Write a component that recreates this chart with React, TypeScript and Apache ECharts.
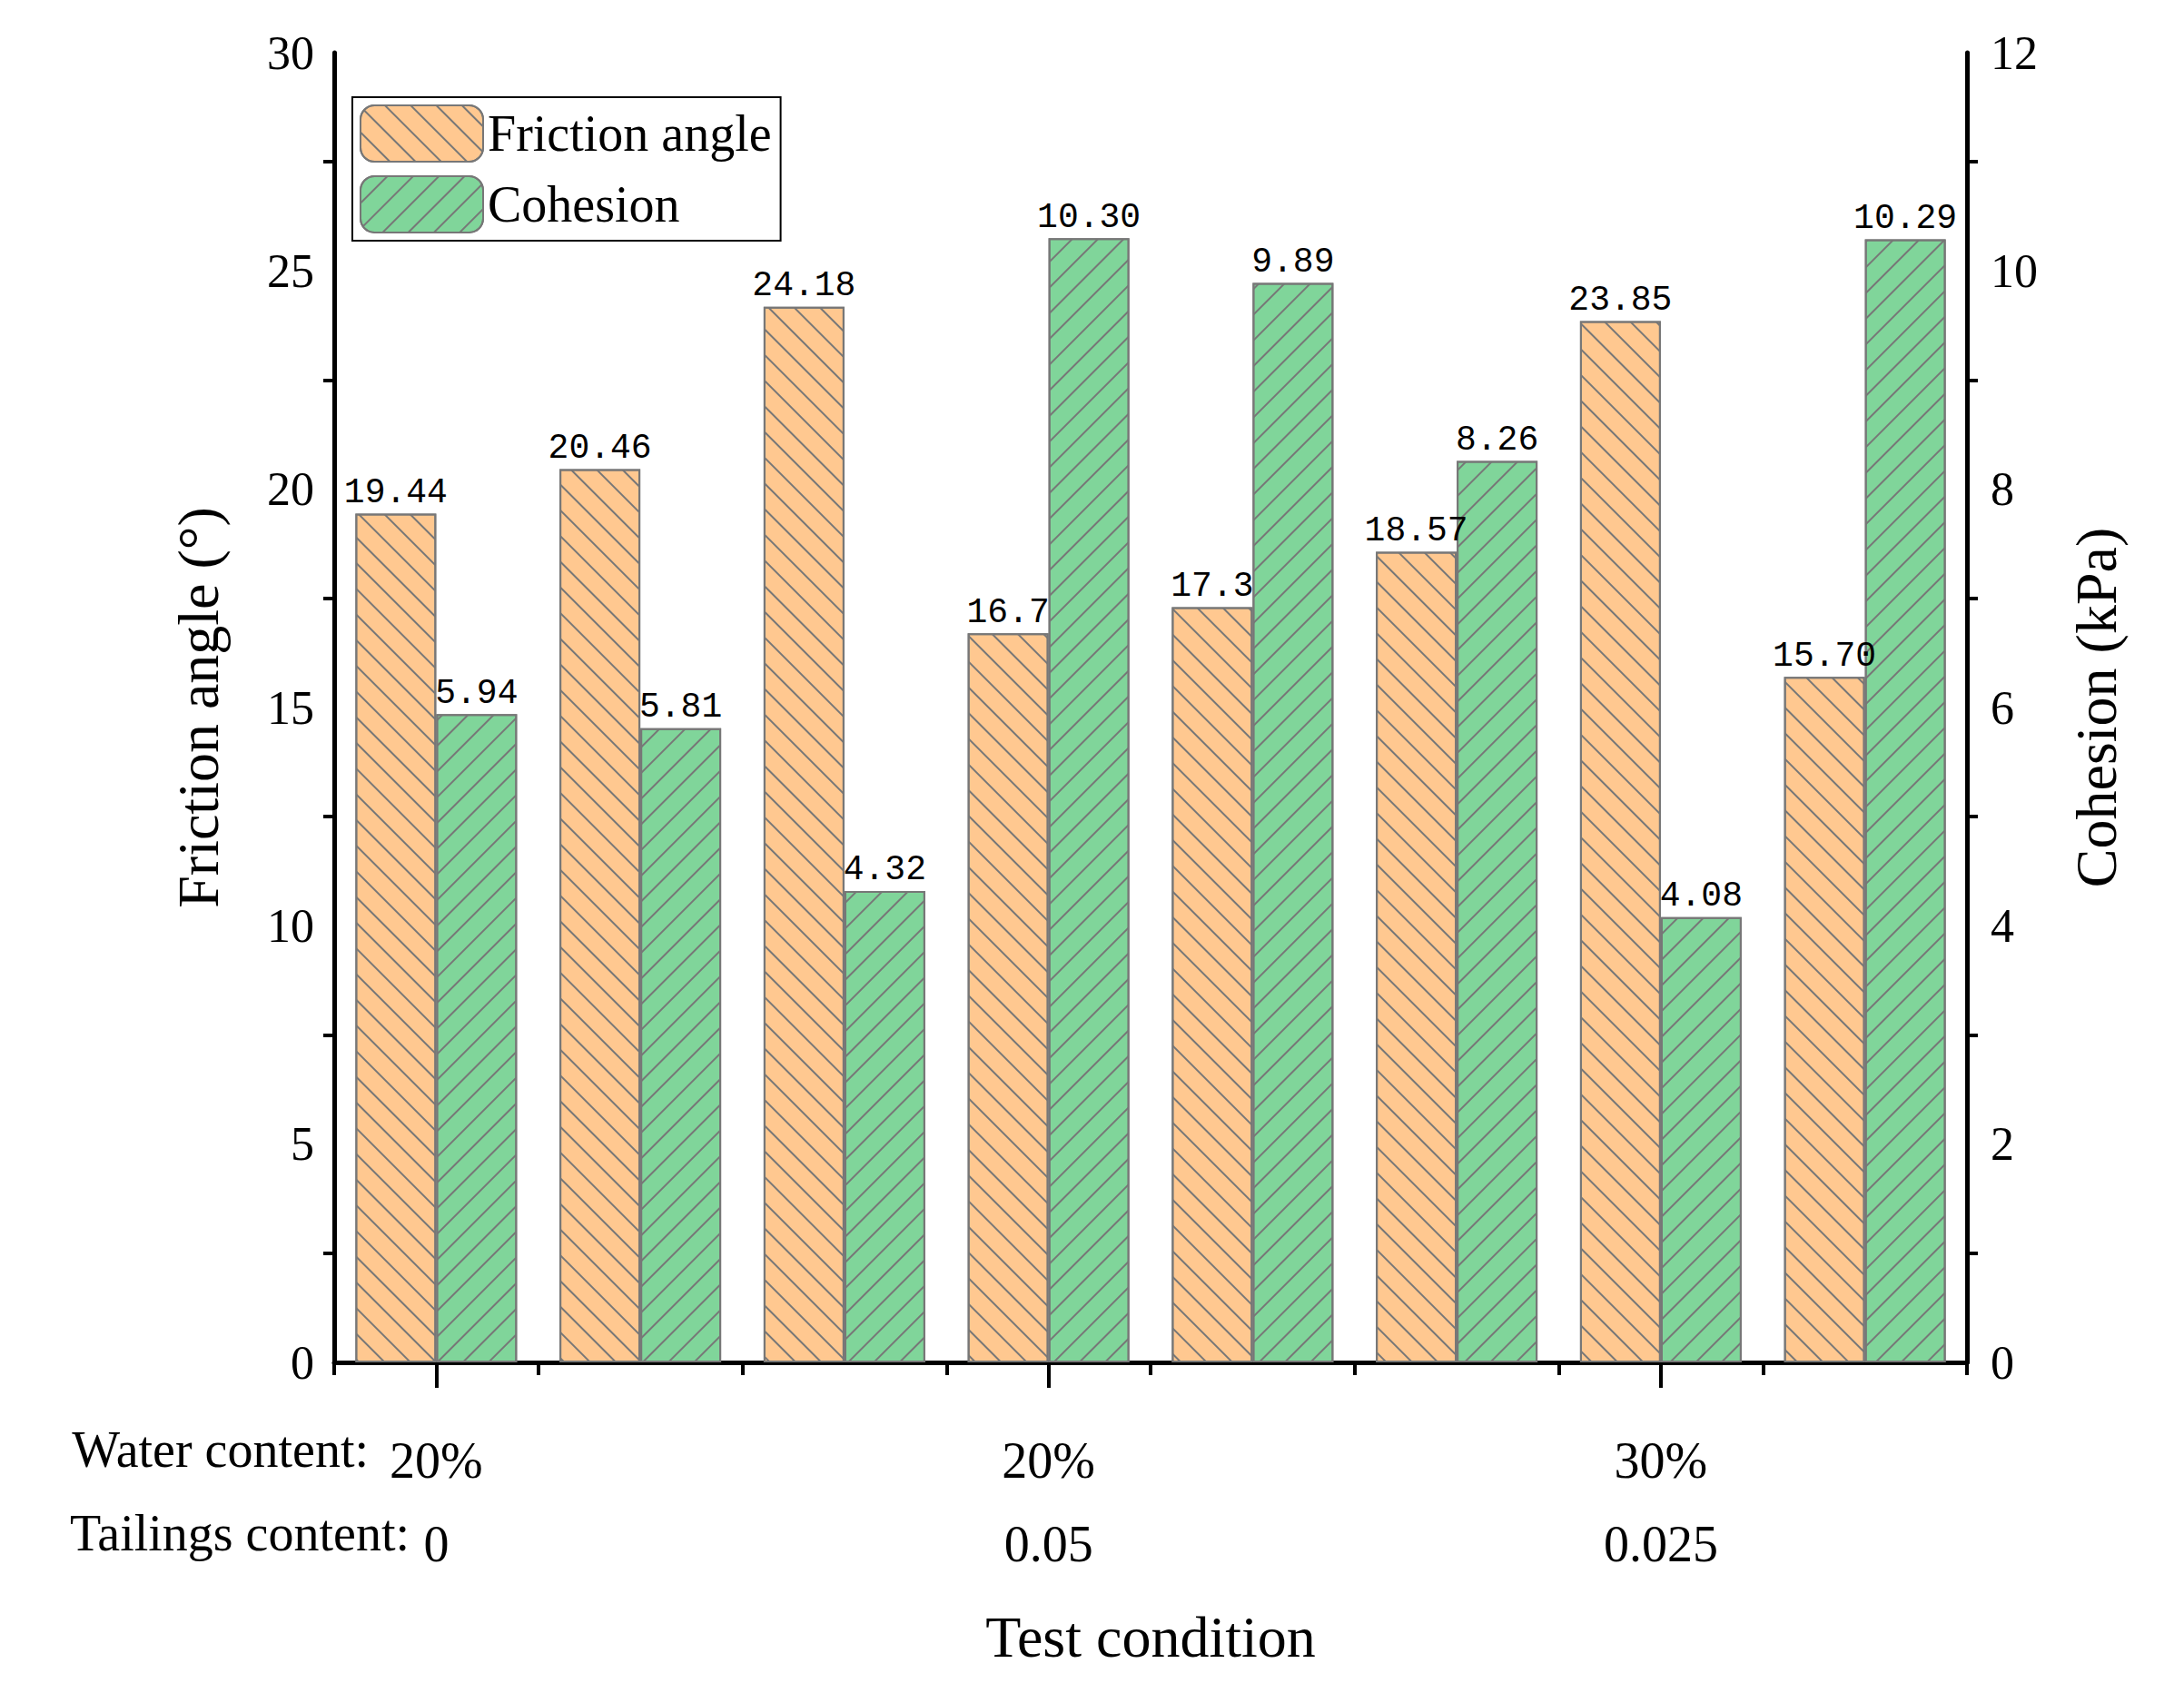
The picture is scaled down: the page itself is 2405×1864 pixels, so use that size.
import { useEffect, useRef } from "react";
import * as echarts from "echarts";

const categories = ["c1", "c2", "c3", "c4", "c5", "c6", "c7", "c8"];
const waterLabels = ["20%", "20%", "20%", "20%", "30%", "30%", "30%", "30%"];
const tailingsLabels = ["0", "0.0125", "0.025", "0.05", "0", "0.0125", "0.025", "0.05 g/cm{sup|2}"];
const frictionValues = [19.44, 20.46, 24.18, 16.7, 17.3, 18.57, 23.85, 15.7];
const frictionText = ["19.44", "20.46", "24.18", "16.7", "17.3", "18.57", "23.85", "15.70"];
const cohesionValues = [5.94, 5.81, 4.32, 10.3, 9.89, 8.26, 4.08, 10.29];
const cohesionText = ["5.94", "5.81", "4.32", "10.30", "9.89", "8.26", "4.08", "10.29"];

const FONT = "Liberation Serif";
const LABEL_FONT = "Liberation Mono";

export default function App() {
  const ref = useRef<HTMLDivElement>(null);
  useEffect(() => {
    if (!ref.current) return;
    const chart = echarts.init(ref.current, undefined, { renderer: "svg" });
    const axisLine = { show: true, lineStyle: { color: "#000", width: 5 } };
    chart.setOption({
      animation: false,
      backgroundColor: "#fff",
      textStyle: { fontFamily: FONT },
      grid: { left: 368, right: 239, top: 58, bottom: 364 },
      legend: {
        left: 388, top: 107, orient: "vertical", itemGap: 14,
        itemWidth: 135, itemHeight: 62,
        padding: [8, 10, 8, 8],
        borderColor: "#000", borderWidth: 2,
        textStyle: { fontFamily: FONT, fontSize: 56, color: "#000" },
        data: ["Friction angle", "Cohesion"],
      },
      xAxis: [
        {
          type: "category", data: categories,
          axisLine, axisTick: { show: true, alignWithLabel: true, length: 28, lineStyle: { width: 4, color: "#000" } },
          axisLabel: {
            margin: 62, color: "#000", fontFamily: FONT, fontSize: 56, lineHeight: 92,
            formatter: (_v: string, i: number) => waterLabels[i] + "\n" + tailingsLabels[i],
            rich: { sup: { fontSize: 34, verticalAlign: "top", fontFamily: FONT, padding: [0, 0, 30, 0] } },
          },
          name: "Test condition", nameLocation: "middle", nameGap: 270,
          nameTextStyle: { fontFamily: FONT, fontSize: 64, color: "#000" },
        },
        {
          type: "category", data: categories, position: "bottom",
          axisLine: { show: false }, axisLabel: { show: false },
          axisTick: { show: true, length: 14, lineStyle: { width: 4, color: "#000" } },
        },
      ],
      yAxis: [
        {
          type: "value", min: 0, max: 30, interval: 5,
          axisLine, splitLine: { show: false },
          axisTick: { length: 20, lineStyle: { width: 4, color: "#000" } },
          minorTick: { show: true, splitNumber: 2, length: 12, lineStyle: { width: 4, color: "#000" } },
          axisLabel: { color: "#000", fontFamily: FONT, fontSize: 52, margin: 22 },
          name: "Friction angle (°)", nameLocation: "middle", nameGap: 118,
          nameTextStyle: { fontFamily: FONT, fontSize: 64, color: "#000" },
        },
        {
          type: "value", min: 0, max: 12, interval: 2, position: "right",
          axisLine, splitLine: { show: false },
          axisTick: { length: 20, lineStyle: { width: 4, color: "#000" } },
          minorTick: { show: true, splitNumber: 2, length: 12, lineStyle: { width: 4, color: "#000" } },
          axisLabel: { color: "#000", fontFamily: FONT, fontSize: 52, margin: 26 },
          name: "Cohesion (kPa)", nameLocation: "middle", nameGap: 110, nameRotate: 90,
          nameTextStyle: { fontFamily: FONT, fontSize: 64, color: "#000" },
        },
      ],
      graphic: [
        { type: "text", right: 2405 - 420, top: 1568, style: { text: "Water content: ", font: `56px "${FONT}"`, fill: "#000" } },
        { type: "text", right: 2405 - 465, top: 1660, style: { text: "Tailings content: ", font: `56px "${FONT}"`, fill: "#000" } },
      ],
      series: [
        {
          name: "Friction angle", type: "bar", yAxisIndex: 0, data: frictionValues,
          barWidth: 89, barGap: "0%",
          itemStyle: {
            color: "#FFC890", borderColor: "#777", borderWidth: 2,
            decal: { symbol: "rect", color: "#777", dashArrayX: [1, 0], dashArrayY: [2, 18], rotation: Math.PI / 4 },
          },
          label: {
            show: true, position: "top", distance: 4, color: "#000", fontFamily: LABEL_FONT, fontSize: 38,
            formatter: (p: any) => frictionText[p.dataIndex],
          },
        },
        {
          name: "Cohesion", type: "bar", yAxisIndex: 1, data: cohesionValues,
          barWidth: 89, barGap: "0%",
          itemStyle: {
            color: "#80D59A", borderColor: "#777", borderWidth: 2,
            decal: { symbol: "rect", color: "#777", dashArrayX: [1, 0], dashArrayY: [2, 18], rotation: -Math.PI / 4 },
          },
          label: {
            show: true, position: "top", distance: 4, color: "#000", fontFamily: LABEL_FONT, fontSize: 38,
            formatter: (p: any) => cohesionText[p.dataIndex],
          },
        },
      ],
    });
    return () => chart.dispose();
  }, []);
  return <div ref={ref} style={{ position: "absolute", left: 0, top: 0, width: 2405, height: 1864 }} />;
}
